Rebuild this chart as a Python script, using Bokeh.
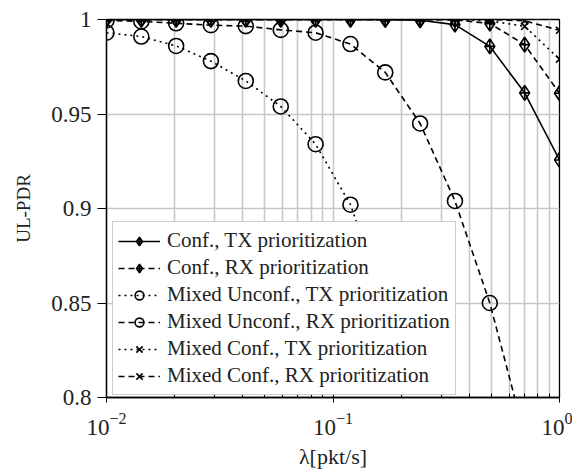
from bokeh.plotting import figure
from bokeh.models import (FixedTicker, Legend, LegendItem, Range1d, CustomJSTickFormatter,
                          LogTickFormatter)
from bokeh.embed import file_html
from bokeh.resources import INLINE

# ---- data ----
lam = [0.01, 0.01425, 0.0203, 0.0289, 0.0412, 0.0588, 0.0838, 0.1194,
       0.1701, 0.2424, 0.3455, 0.4924, 0.7017, 1.0]

conf_tx = [1.0, 1.0, 1.0, 1.0, 1.0, 1.0, 1.0, 1.0, 0.9999, 0.9996, 0.9973,
           0.9858, 0.9612, 0.9257]
conf_rx = [1.0, 1.0, 1.0, 1.0, 1.0, 1.0, 1.0, 1.0, 1.0, 1.0, 0.9998,
           0.9979, 0.9867, 0.961]
mixu_tx = [0.993, 0.991, 0.986, 0.978, 0.9675, 0.954, 0.934, 0.902, 0.85, 0.77]
mixu_rx = [0.9995, 0.999, 0.998, 0.997, 0.9965, 0.9945, 0.993, 0.987, 0.972,
           0.945, 0.904, 0.850, 0.78]
mixc_tx = [1.0, 1.0, 1.0, 1.0, 1.0, 1.0, 1.0, 1.0, 1.0, 1.0, 1.0,
           0.9993, 0.9964, 0.979]
mixc_rx = [1.0, 1.0, 1.0, 1.0, 1.0, 1.0, 1.0, 1.0, 1.0, 1.0, 1.0,
           1.0, 0.9993, 0.9943]

labels = ["Conf., TX prioritization",
          "Conf., RX prioritization",
          "Mixed Unconf., TX prioritization",
          "Mixed Unconf., RX prioritization",
          "Mixed Conf., TX prioritization",
          "Mixed Conf., RX prioritization"]

y_ticks = [0.8, 0.85, 0.9, 0.95, 1.0]
x_ticks = [0.01, 0.1, 1.0]
x_minor = [0.02, 0.03, 0.04, 0.05, 0.06, 0.07, 0.08, 0.09,
           0.2, 0.3, 0.4, 0.5, 0.6, 0.7, 0.8, 0.9]

FONT = "Liberation Serif"

p = figure(width=572, height=471, x_axis_type="log",
           x_range=Range1d(0.01, 1.0), y_range=Range1d(0.8, 1.0),
           output_backend="svg", toolbar_location=None,
           min_border_left=106, min_border_top=19, min_border_right=13,
           min_border_bottom=70)

p.outline_line_color = "black"
p.outline_line_width = 1.3
p.background_fill_color = "white"

p.xaxis.ticker = FixedTicker(ticks=x_ticks, minor_ticks=x_minor)
p.yaxis.ticker = FixedTicker(ticks=y_ticks)
p.xaxis.formatter = LogTickFormatter()
p.yaxis.formatter = CustomJSTickFormatter(code="""
if (Math.abs(tick - 1) < 1e-9) return '1';
return String(Math.round(tick*100)/100);
""")

for ax in (p.xaxis[0], p.yaxis[0]):
    ax.axis_line_color = "black"
    ax.axis_line_width = 1.3
    ax.major_tick_line_color = "black"
    ax.minor_tick_line_color = "black"
    ax.major_label_text_font = FONT
    ax.major_label_text_font_size = "23px"
    ax.major_label_text_color = "#222222"
    ax.axis_label_text_font = FONT
    ax.axis_label_text_font_style = "normal"
    ax.axis_label_text_color = "#222222"

p.xaxis.major_tick_out = 5
p.xaxis.major_tick_in = 5
p.xaxis.minor_tick_out = 0
p.xaxis.minor_tick_in = 4
p.xaxis.major_label_standoff = 10
p.xaxis.axis_label = "\u03bb[pkt/s]"
p.xaxis.axis_label_text_font_size = "22px"
p.xaxis.axis_label_standoff = 6

p.yaxis.major_tick_out = 9
p.yaxis.major_tick_in = 0
p.yaxis.minor_tick_out = 0
p.yaxis.minor_tick_in = 0
p.yaxis.major_label_standoff = 6
p.yaxis.axis_label = "UL-PDR"
p.yaxis.axis_label_text_font_size = "19px"
p.yaxis.axis_label_standoff = 14

p.xgrid.grid_line_color = "#c8c8c8"
p.xgrid.grid_line_width = 1.6
p.xgrid.minor_grid_line_color = "#c8c8c8"
p.xgrid.minor_grid_line_width = 1.6
p.ygrid.grid_line_color = "#c8c8c8"
p.ygrid.grid_line_width = 1.6

series = [
    (conf_tx, "solid", "diamond_cross", 15),
    (conf_rx, "6 4", "diamond_cross", 15),
    (mixu_tx, "2 4", "circle", 15),
    (mixu_rx, "6 4", "circle", 15),
    (mixc_tx, "2 4", "x", 10),
    (mixc_rx, "6 4", "x", 10),
]

items = []
for (ys, dash, marker, size), lab in zip(series, labels):
    xs = lam[:len(ys)]
    r1 = p.line(xs, ys, line_color="black", line_width=1.6, line_dash=dash)
    r2 = p.scatter(xs, ys, marker=marker, size=size, line_color="black",
                   line_width=1.6, fill_alpha=0)
    items.append(LegendItem(label=lab, renderers=[r1, r2]))

legend = Legend(items=items, location=(6, 2))
legend.label_text_font = FONT
legend.label_text_font_size = "21px"
legend.label_text_color = "#222222"
legend.label_height = 27
legend.glyph_height = 22
legend.glyph_width = 42
legend.label_standoff = 7
legend.spacing = 0
legend.padding = 5
legend.margin = 0
legend.border_line_color = "#999999"
legend.border_line_width = 1.3
legend.background_fill_color = "white"
legend.background_fill_alpha = 1.0
p.add_layout(legend, "center")

open("out.html", "w").write(file_html(p, INLINE))
